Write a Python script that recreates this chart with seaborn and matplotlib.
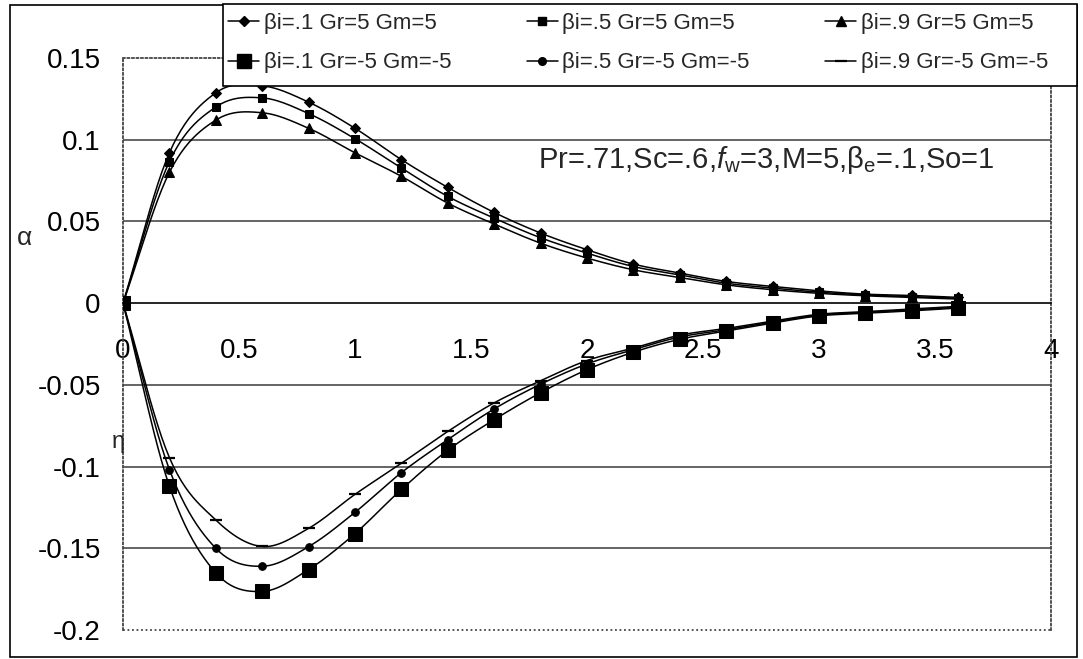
import numpy as np
import pandas as pd
import seaborn as sns
import matplotlib
matplotlib.use("Agg")
import matplotlib.pyplot as plt
from matplotlib.lines import Line2D
from matplotlib.patches import Rectangle

# ---------------- data ----------------
eta = [0.0, 0.2, 0.4, 0.6, 0.8, 1.0, 1.2, 1.4, 1.6, 1.8, 2.0, 2.2, 2.4, 2.6, 2.8, 3.0, 3.2, 3.4, 3.6]

pos_b1 = [0, 0.092, 0.1287, 0.133, 0.123, 0.107, 0.0878, 0.0708, 0.0555, 0.0429, 0.0327, 0.0239, 0.0184, 0.0133, 0.0102, 0.0075, 0.0055, 0.0047, 0.0035]
pos_b5 = [0, 0.0866, 0.120, 0.1256, 0.116, 0.1006, 0.0827, 0.0653, 0.052, 0.040, 0.0306, 0.0224, 0.0173, 0.0122, 0.0092, 0.0067, 0.005, 0.004, 0.003]
pos_b9 = [0, 0.080, 0.112, 0.1165, 0.107, 0.092, 0.0776, 0.0612, 0.0484, 0.0367, 0.0276, 0.0204, 0.0157, 0.0112, 0.0082, 0.006, 0.0045, 0.0035, 0.0025]

neg_b1 = [0, -0.112, -0.165, -0.1764, -0.163, -0.141, -0.114, -0.090, -0.0713, -0.0548, -0.0407, -0.030, -0.0221, -0.0171, -0.0122, -0.0078, -0.0062, -0.0047, -0.003]
neg_b5 = [0, -0.1018, -0.150, -0.161, -0.149, -0.128, -0.1037, -0.0835, -0.0647, -0.0496, -0.0372, -0.0285, -0.0207, -0.0163, -0.0116, -0.0073, -0.0057, -0.0041, -0.0025]
neg_b9 = [0, -0.0945, -0.1327, -0.1489, -0.1378, -0.117, -0.098, -0.0785, -0.061, -0.0475, -0.0351, -0.0275, -0.0196, -0.0155, -0.011, -0.0068, -0.0052, -0.0035, -0.002]

labels = ["βi=.1 Gr=5 Gm=5", "βi=.5 Gr=5 Gm=5", "βi=.9 Gr=5 Gm=5",
          "βi=.1 Gr=-5 Gm=-5", "βi=.5 Gr=-5 Gm=-5", "βi=.9 Gr=-5 Gm=-5"]

xtick_vals = [0, 0.5, 1, 1.5, 2, 2.5, 3, 3.5, 4]
xtick_labels = ["0", "0.5", "1", "1.5", "2", "2.5", "3", "3.5", "4"]
ytick_vals = [0.15, 0.1, 0.05, 0, -0.05, -0.1, -0.15, -0.2]
ytick_labels = ["0.15", "0.1", "0.05", "0", "-0.05", "-0.1", "-0.15", "-0.2"]

annotation = r"Pr=.71,Sc=.6,$f_{\rm w}$=3,M=5,β$_{\rm e}$=.1,So=1"

# ---------------- style ----------------
sns.set_theme(style="white")
plt.rcParams["font.family"] = ["Liberation Sans", "DejaVu Sans"]
plt.rcParams["mathtext.fontset"] = "custom"
plt.rcParams["mathtext.rm"] = "Liberation Sans"
plt.rcParams["mathtext.it"] = "Liberation Sans:italic"
plt.rcParams["axes.unicode_minus"] = False

W, H = 1083, 659
fig = plt.figure(figsize=(W / 100, H / 100), dpi=100)
fig.patch.set_facecolor("white")
ax = fig.add_axes([123 / W, 1 - 630 / H, (1051 - 123) / W, (630 - 58) / H])
ax.set_facecolor("white")


def smooth(x, y, n=24):
    P = np.column_stack([np.asarray(x, float), np.asarray(y, float)])
    P = np.vstack([2 * P[0] - P[1], P, 2 * P[-1] - P[-2]])
    out = []
    t = np.linspace(0, 1, n, endpoint=False)[:, None]
    for i in range(1, len(P) - 2):
        p0, p1, p2, p3 = P[i - 1], P[i], P[i + 1], P[i + 2]
        pts = 0.5 * ((2 * p1) + (-p0 + p2) * t + (2 * p0 - 5 * p1 + 4 * p2 - p3) * t ** 2
                     + (-p0 + 3 * p1 - 3 * p2 + p3) * t ** 3)
        out.append(pts)
    out.append(P[-2][None, :])
    return np.vstack(out)


series = [
    (pos_b1, dict(marker="D", markersize=5.5)),
    (pos_b5, dict(marker="s", markersize=5.5)),
    (pos_b9, dict(marker="^", markersize=6.5)),
    (neg_b1, dict(marker="s", markersize=10)),
    (neg_b5, dict(marker="o", markersize=5.5)),
    (neg_b9, dict(marker="_", markersize=9, markeredgewidth=1.6)),
]

# gridlines
for g in [0.1, 0.05, -0.05, -0.1, -0.15]:
    ax.axhline(g, color="#3a3a3a", lw=1.1, zorder=1)

for vals, mk in series:
    s = smooth(eta, vals)
    df = pd.DataFrame({"x": s[:, 0], "y": s[:, 1]})
    sns.lineplot(data=df, x="x", y="y", sort=False, estimator=None, color="black",
                 lw=1.1, ax=ax, zorder=3)
    dp = pd.DataFrame({"x": eta, "y": vals})
    sns.lineplot(data=dp, x="x", y="y", sort=False, estimator=None, color="black",
                 linestyle="none", markeredgecolor="black", markerfacecolor="black",
                 ax=ax, zorder=4, **mk)

ax.set_xlim(0, 4)
ax.set_ylim(-0.2, 0.15)
ax.set_xlabel("")
ax.set_ylabel("")
ax.set_xticks(xtick_vals)
ax.set_xticklabels(xtick_labels)
ax.set_yticks(ytick_vals)
ax.set_yticklabels(ytick_labels)
ax.tick_params(axis="x", direction="out", length=9, width=1, pad=16, labelsize=20,
               colors="black")
ax.tick_params(axis="y", direction="out", length=9, width=1, pad=7, labelsize=20,
               colors="black")
ax.grid(False)

ax.spines["bottom"].set_position(("data", 0))
ax.spines["bottom"].set_color("black")
ax.spines["bottom"].set_linewidth(1.2)
for side in ["left", "top", "right"]:
    ax.spines[side].set_linestyle((0, (1, 1.5)))
    ax.spines[side].set_color("#444444")
    ax.spines[side].set_linewidth(1.3)
ax.axhline(-0.2, ls=(0, (1, 1.5)), color="#444444", lw=1.3, clip_on=False, zorder=2)

# annotation and axis symbols
fig.text(538 / W, 1 - 160 / H, annotation, fontsize=21, ha="left", va="center")
fig.text(24 / W, 1 - 238 / H, "α", fontsize=19, ha="center", va="center")
fig.text(118 / W, 1 - 442 / H, "η", fontsize=17, ha="center", va="center")

# legend box
fig.patches.append(Rectangle((223 / W, 1 - 86 / H), (1077 - 223) / W, (86 - 4) / H,
                             facecolor="white", edgecolor="black", lw=1.2,
                             transform=fig.transFigure, zorder=4))

# legend (filled column-wise for ncol=3)
handles = []
for vals, mk in series:
    handles.append(Line2D([0], [0], color="black", lw=1.1, **mk))
order = [0, 3, 1, 4, 2, 5]
leg = fig.legend([handles[i] for i in order], [labels[i] for i in order], ncol=3,
                 loc="center left", bbox_to_anchor=(228 / W, 1 - 43 / H),
                 fontsize=16, frameon=False, handlelength=1.4, handletextpad=0.2,
                 borderpad=0, labelspacing=0.85, columnspacing=3.4, borderaxespad=0)
leg.set_zorder(6)

# outer chart border
fig.patches.append(Rectangle((10 / W, 2 / H), (1077 - 10) / W, (652) / H, fill=False,
                             edgecolor="black", lw=1.2, transform=fig.transFigure))

fig.savefig("out.png", dpi=100, facecolor="white")
